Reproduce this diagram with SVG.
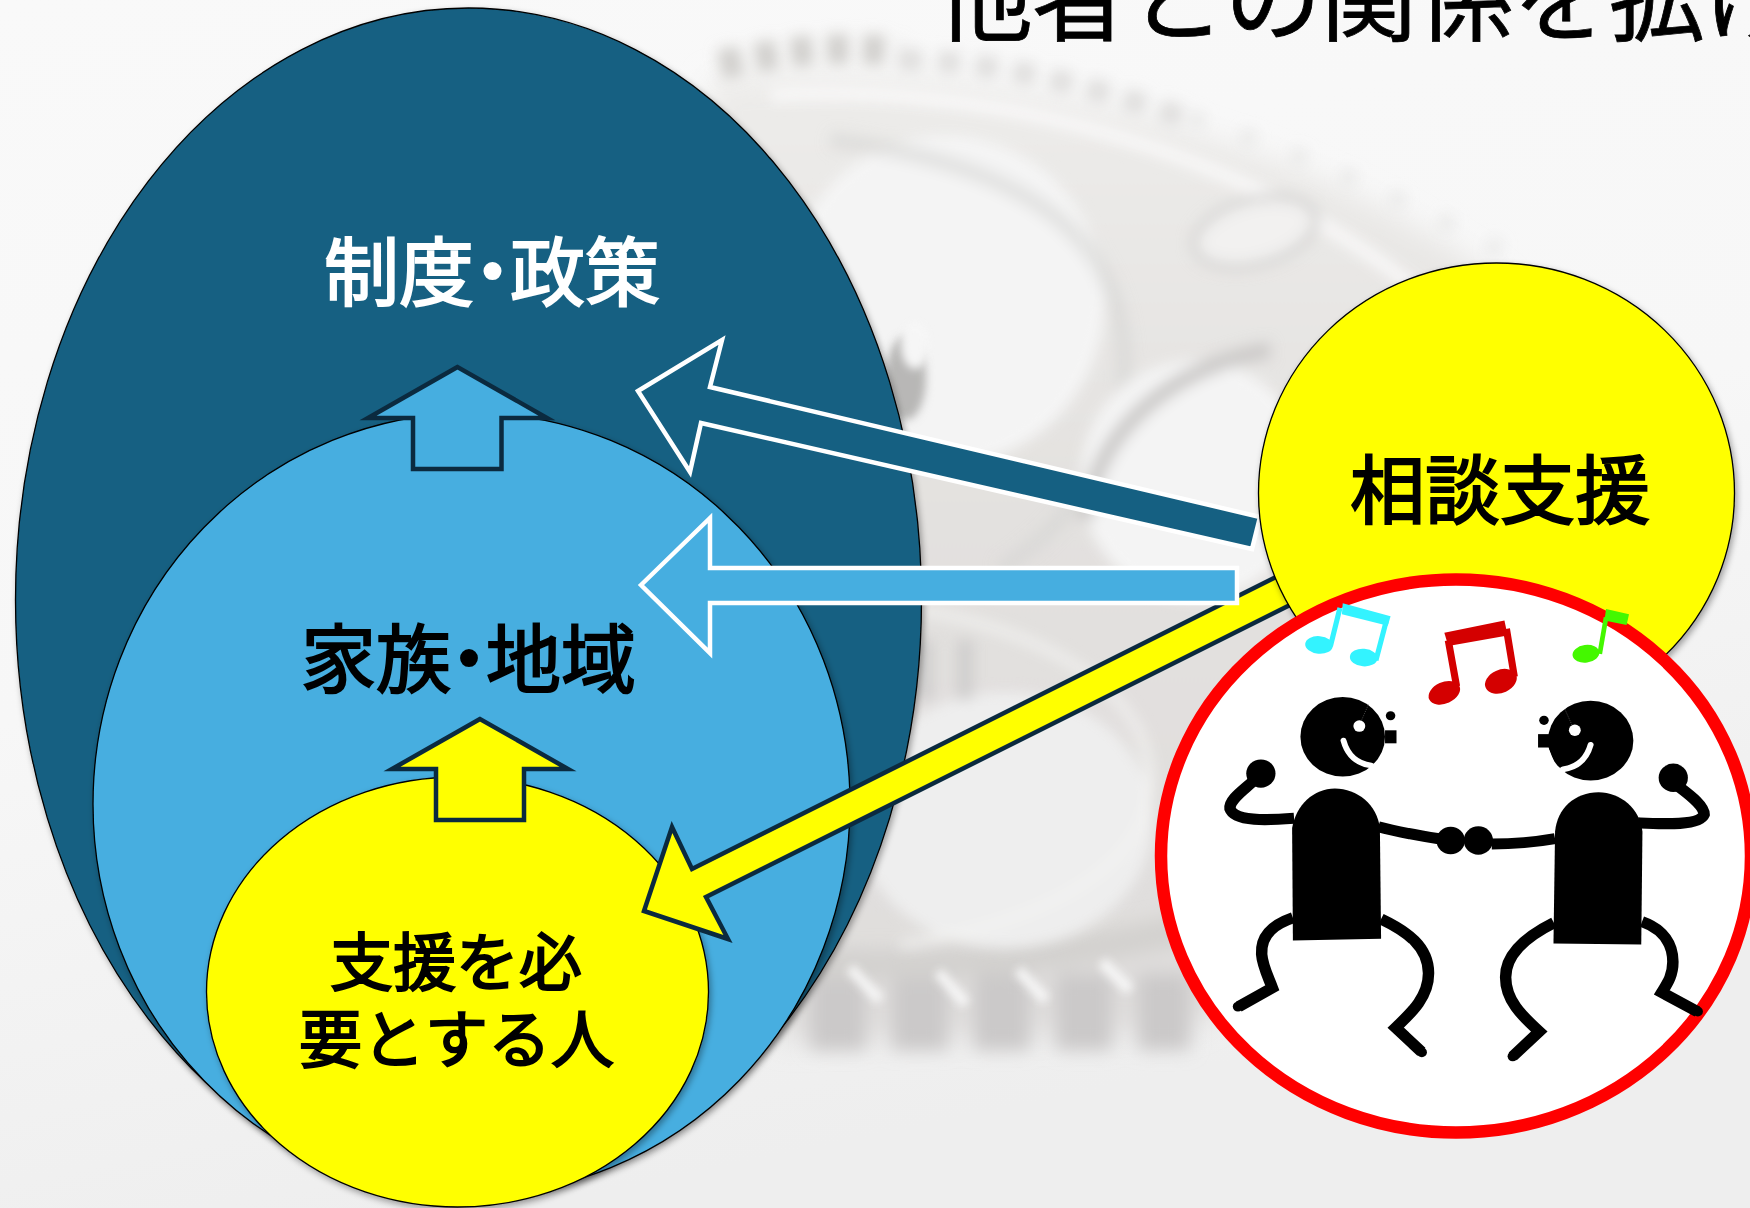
<svg xmlns="http://www.w3.org/2000/svg" width="1750" height="1208" viewBox="0 0 1750 1208">
<style>
text{font-family:"Noto Sans CJK JP","Noto Sans CJK SC",sans-serif}
.lbl{font-weight:400;font-size:75px;stroke-width:2;paint-order:stroke}
.k{fill:#000;stroke:#000}
.w{fill:#fff;stroke:#fff}
.oval{stroke:#000;stroke-width:1.3;filter:url(#sh)}
.up{stroke:#0b2a3f;stroke-width:4.5;stroke-miterlimit:8}
.out{stroke:#fff;stroke-width:4.5;stroke-miterlimit:4}
.ink{fill:none;stroke:#000;stroke-width:29;stroke-linecap:butt;stroke-linejoin:miter}
.smile{fill:none;stroke:#fff;stroke-width:15;stroke-linecap:round}
.hair{stroke:#555;stroke-width:2;stroke-dasharray:3 3}
</style>
<defs>
<linearGradient id="bg" x1="0" y1="0" x2="0.3" y2="1">
<stop offset="0" stop-color="#f9f9f9"/><stop offset=".55" stop-color="#f7f7f7"/><stop offset="1" stop-color="#eeeeee"/>
</linearGradient>
<linearGradient id="body" x1="0" y1="0" x2="0" y2="1">
<stop offset="0" stop-color="#edecea"/><stop offset=".45" stop-color="#e3e1df"/><stop offset="1" stop-color="#dfdddc"/>
</linearGradient>
<filter id="sh" x="-5%" y="-5%" width="112%" height="112%"><feDropShadow dx="2" dy="3" stdDeviation="3" flood-color="#000" flood-opacity=".35"/></filter>
<filter id="b14" x="-10%" y="-10%" width="120%" height="120%"><feGaussianBlur stdDeviation="14"/></filter>
<filter id="b9" filterUnits="userSpaceOnUse" x="600" y="800" width="800" height="400"><feGaussianBlur stdDeviation="9"/></filter>
<filter id="b7" filterUnits="userSpaceOnUse" x="600" y="0" width="1150" height="1100"><feGaussianBlur stdDeviation="7"/></filter>
<filter id="b4" filterUnits="userSpaceOnUse" x="600" y="200" width="800" height="1000"><feGaussianBlur stdDeviation="4"/></filter>
</defs>
<rect id="background" width="1750" height="1208" fill="url(#bg)"/>
<g id="gear">
<path filter="url(#b14)" d="M710,80C900,60 1230,100 1470,260C1560,320 1600,420 1600,520C1500,800 1350,960 1180,1030L780,1040L690,800Z" fill="url(#body)"/>
<g filter="url(#b9)" fill="none">
<path d="M810,1012L1190,1012" stroke="#cbc9c9" stroke-width="76" stroke-dasharray="56 26"/>
<path d="M800,962C950,972 1100,952 1210,922" stroke="#d3d1cf" stroke-width="30"/>
</g>
<g filter="url(#b4)" fill="none" stroke="#fbfbfb" stroke-width="11" opacity=".85">
<path d="M850,968L880,1000M938,972L966,1004M1018,970L1046,1000M1102,962L1130,990"/>
</g>
<g filter="url(#b7)" fill="none">
<path d="M720,65C790,50 840,45 900,52" stroke="#d2d0ce" stroke-width="30" stroke-dasharray="22 14"/>
<path d="M900,60C1000,60 1100,90 1190,120" stroke="#e0dfde" stroke-width="22" stroke-dasharray="22 16"/>
<path d="M1190,118C1320,160 1420,210 1500,250" stroke="#e9e9e8" stroke-width="16" stroke-dasharray="14 40"/>
<ellipse cx="945" cy="300" rx="160" ry="165" fill="#f4f4f4"/>
<path d="M1000,570C1090,510 1140,420 1120,320C1100,220 1000,160 830,140" stroke="#d6d5d3" stroke-width="16" opacity=".6"/>
<path d="M770,95C1000,80 1300,160 1470,340" stroke="#f8f7f7" stroke-width="14"/>
<ellipse cx="1255" cy="232" rx="62" ry="32" fill="#f2f1f0" stroke="#d5d4d3" stroke-width="8" transform="rotate(-15 1255 232)"/>
<ellipse cx="1195" cy="480" rx="115" ry="120" fill="#f4f4f4"/>
<path d="M1085,520C1095,430 1175,365 1270,350" stroke="#cccac9" stroke-width="16"/>
<ellipse cx="1005" cy="820" rx="148" ry="128" fill="#eeeeee"/>
<path d="M920,610C1040,630 1150,690 1150,780C1150,860 1060,920 900,945" stroke="#f4f4f3" stroke-width="7"/>
<path d="M925,640V700M965,640V700" stroke="#cfcecd" stroke-width="16"/>
</g>
<ellipse filter="url(#b4)" cx="906" cy="378" rx="20" ry="42" fill="#b8b7b6"/>
<ellipse filter="url(#b4)" cx="915" cy="345" rx="14" ry="24" fill="#f6f6f6"/>
</g>
<text id="title" x="937 1032 1129 1225 1321 1417 1513 1609 1705" y="33" font-size="96" fill="#000" stroke="#000" stroke-width=".8">他者との関係を拡げ</text>
<g id="policy">
<ellipse class="oval" cx="468.5" cy="600" rx="453" ry="592" fill="#156082"/>
<text class="lbl w" x="324 399 455 510 585" y="300">制度・政策</text>
</g>
<g id="family">
<ellipse class="oval" cx="471.5" cy="804" rx="378.5" ry="391" fill="#46aee0"/>
<text class="lbl k" x="301 376 431.500 486 561" y="687">家族・地域</text>
</g>
<g id="person">
<ellipse class="oval" cx="457.500" cy="992" rx="251" ry="215" fill="#ffff00"/>
<text class="lbl k" style="font-size:63px"><tspan x="330 393 456 519" y="985">支援を必</tspan><tspan x="299 362 425 488 551" y="1062">要とする人</tspan></text>
</g>
<g id="connectors">
<polygon class="up" fill="#46aee0" points="457.500,367 368,418 413,418 413,469 501.500,469 501.500,418 547,418"/>
<polygon class="up" fill="#ffff00" points="480,719 392,769 436,769 436,820 524,820 524,769 568,769"/>
<polygon class="up" fill="#ffff00" points="644,911 672,827 692,869 1300,565 1315,592.500 706,897 728,939"/>
<polygon class="out" fill="#156082" points="638,391 722,340 710,387 1260,517 1252,549 701,423 690,472"/>
<polygon class="out" fill="#46aee0" points="641,585 710,518 710,568 1237,568 1237,603 710,603 710,653"/>
</g>
<g id="consult">
<ellipse class="oval" cx="1496.500" cy="493" rx="238" ry="230" fill="#ffff00"/>
<text class="lbl k" x="1350 1425 1500 1575" y="518">相談支援</text>
</g>
<g id="dance">
<ellipse cx="1456" cy="856" rx="295" ry="276.500" fill="#fff" stroke="#ff0000" stroke-width="12.500"/>
<g transform="translate(1130 560) scale(.3954 .3827)">
<g id="note-cyan" fill="#33f3ff" stroke="none">
<polygon points="538,113 659,147 652,172 536,142"/>
<path d="M531,125L507,225M648,160L622,262" stroke="#33f3ff" stroke-width="13" fill="none"/>
<ellipse cx="478" cy="222" rx="35" ry="23" transform="rotate(5 478 222)"/>
<ellipse cx="591" cy="255" rx="35" ry="23" transform="rotate(5 591 255)"/>
</g>
<g id="note-red" fill="#d40000">
<polygon points="795,190 947,158 955,197 805,225"/>
<path d="M805,210L826,330M952,180L972,305" stroke="#d40000" stroke-width="18" fill="none"/>
<ellipse cx="795" cy="347" rx="42" ry="28" transform="rotate(-25 795 347)"/>
<ellipse cx="938" cy="317" rx="42" ry="30" transform="rotate(-25 938 317)"/>
</g>
<g id="note-green" fill="#44f800">
<polygon points="1204,128 1262,142 1256,170 1200,158"/>
<path d="M1204,150L1188,245" stroke="#44f800" stroke-width="12" fill="none"/>
<ellipse cx="1153" cy="245" rx="34" ry="23" transform="rotate(-8 1153 245)"/>
</g>
<g id="dancer-left">
<ellipse cx="538" cy="462" rx="107" ry="104"/>
<polygon points="648,478 632,522 606,540 660,570 690,480" fill="#fff"/>
<rect x="645" y="445" width="29" height="34"/>
<circle cx="659" cy="407" r="12"/>
<ellipse cx="580" cy="434" rx="15" ry="15" fill="#fff"/>
<path class="smile" d="M540,472C550,510 575,532 610,537"/>
<path class="hair" d="M603,378L585,420"/>
<path d="M410,700C420,640 465,597 518,597C575,597 625,640 632,700L635,990L412,994Z"/>
<path class="ink" d="M415,675C350,680 265,685 253,650C250,625 290,600 320,570"/>
<circle cx="331" cy="558" r="37"/>
<path class="ink" d="M628,697C680,712 730,720 790,730"/>
<circle cx="811" cy="733" r="36"/>
<path class="ink" d="M412,935C370,950 330,975 333,1030C335,1060 350,1090 360,1118L275,1167"/>
<circle cx="273" cy="1167" r="13"/>
<path class="ink" d="M635,938C700,970 755,1010 755,1080C755,1140 715,1180 672,1222L737,1285"/>
<circle cx="738" cy="1286" r="13"/>
</g>
<g id="dancer-right">
<ellipse cx="1165" cy="472" rx="108" ry="104"/>
<polygon points="1058,490 1075,533 1098,552 1040,580 1020,490" fill="#fff"/>
<rect x="1032" y="455" width="29" height="35"/>
<circle cx="1047" cy="419" r="12"/>
<ellipse cx="1125" cy="445" rx="15" ry="15" fill="#fff"/>
<path class="smile" d="M1165,483C1155,520 1130,542 1095,547"/>
<path class="hair" d="M1100,390L1118,432"/>
<path d="M1075,710C1080,650 1125,607 1185,607C1240,607 1290,650 1296,710L1293,1005L1071,1002Z"/>
<path class="ink" d="M1285,687C1350,690 1440,695 1452,665C1452,640 1410,610 1385,590"/>
<circle cx="1374" cy="569" r="37"/>
<path class="ink" d="M1075,728C1020,738 970,742 915,742"/>
<circle cx="881" cy="733" r="37"/>
<path class="ink" d="M1072,948C1000,985 950,1030 950,1090C950,1150 990,1190 1035,1232L968,1297"/>
<circle cx="968" cy="1297" r="13"/>
<path class="ink" d="M1295,945C1350,965 1373,1005 1373,1050C1373,1085 1360,1105 1345,1130L1435,1180"/>
<circle cx="1436" cy="1180" r="13"/>
</g>
</g>
</g>
</svg>
